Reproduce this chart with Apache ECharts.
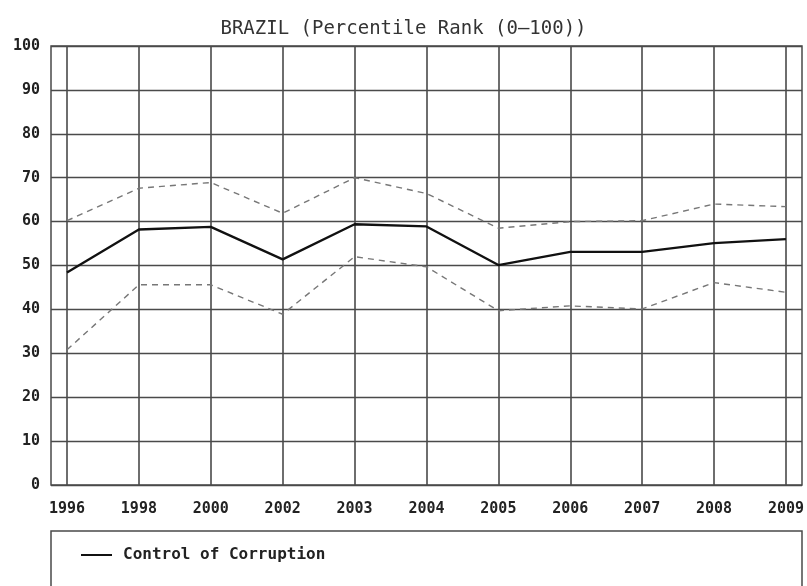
<!DOCTYPE html>
<html>
<head>
<meta charset="utf-8">
<script src="https://cdn.jsdelivr.net/npm/echarts@6/dist/echarts.min.js"></script>
<style>html,body{margin:0;padding:0;background:#fff}#c{width:807px;height:586px}</style>
</head>
<body>
<div id="c"></div>
<script>
var years = ['1996','1998','2000','2002','2003','2004','2005','2006','2007','2008','2009'];
var controlOfCorruption = [48.4, 58.2, 58.8, 51.4, 59.4, 58.9, 50.1, 53.1, 53.1, 55.1, 56.0];
var upperBound = [60.2, 67.6, 68.9, 61.9, 70.0, 66.4, 58.5, 60.0, 60.2, 64.0, 63.4];
var lowerBound = [30.8, 45.6, 45.6, 38.9, 52.0, 49.7, 39.7, 40.8, 40.1, 46.1, 43.9];
var yTicks = [0, 10, 20, 30, 40, 50, 60, 70, 80, 90, 100];

var FONT = 'DejaVu Sans Mono';
var GRID_COLOR = '#4a4a4a';
var chart = echarts.init(document.getElementById('c'), null, {renderer: 'canvas'});
chart.setOption({
  backgroundColor: '#fff',
  animation: false,
  title: {
    text: 'BRAZIL (Percentile Rank (0\u2013100))',
    left: 'center',
    top: 15,
    textStyle: {fontFamily: FONT, fontSize: 19, fontWeight: 'normal', color: '#333'}
  },
  legend: {
    data: ['Control of Corruption'],
    left: 76,
    top: 542,
    icon: 'rect',
    itemWidth: 31,
    itemHeight: 2,
    itemGap: 10,
    textStyle: {fontFamily: FONT, fontSize: 16, fontWeight: 'bold', color: '#222', padding: [0, 0, 0, 6]}
  },
  graphic: [{
    type: 'rect',
    shape: {x: 51, y: 531, width: 751, height: 80},
    style: {fill: null, stroke: GRID_COLOR, lineWidth: 1.5},
    silent: true
  }],
  grid: [
    {left: 51, right: 5, top: 46, bottom: 101, show: true, borderColor: GRID_COLOR, borderWidth: 1.5, backgroundColor: 'transparent'},
    {left: 67, right: 20, top: 46, bottom: 101}
  ],
  xAxis: [
    {gridIndex: 0, type: 'value', min: 0, max: 1, show: false},
    {gridIndex: 1, type: 'category', boundaryGap: false, data: years,
     axisLine: {show: false}, axisTick: {show: false},
     axisLabel: {margin: 17, fontFamily: FONT, fontSize: 15, fontWeight: 'bold', color: '#222', interval: 0},
     splitLine: {show: true, interval: 0, lineStyle: {color: GRID_COLOR, width: 1.6}}}
  ],
  yAxis: [
    {gridIndex: 0, type: 'value', min: 0, max: 100, interval: 10,
     axisLine: {show: false}, axisTick: {show: false},
     axisLabel: {margin: 11, fontFamily: FONT, fontSize: 15, fontWeight: 'bold', color: '#222',
       formatter: function (v) { return yTicks.indexOf(v) >= 0 ? String(v) : ''; }},
     splitLine: {show: true, lineStyle: {color: GRID_COLOR, width: 1.4}}},
    {gridIndex: 1, type: 'value', min: 0, max: 100, show: false}
  ],
  series: [
    {name: 'Upper', type: 'line', xAxisIndex: 1, yAxisIndex: 1, data: upperBound,
     symbol: 'none', lineStyle: {color: '#777', width: 1.4, type: [6, 5]}, silent: true, z: 3},
    {name: 'Lower', type: 'line', xAxisIndex: 1, yAxisIndex: 1, data: lowerBound,
     symbol: 'none', lineStyle: {color: '#777', width: 1.4, type: [6, 5]}, silent: true, z: 3},
    {name: 'Control of Corruption', type: 'line', xAxisIndex: 1, yAxisIndex: 1, data: controlOfCorruption,
     symbol: 'none', itemStyle: {color: '#111'}, lineStyle: {color: '#111', width: 2.3}, z: 4}
  ]
});
</script>
</body>
</html>
